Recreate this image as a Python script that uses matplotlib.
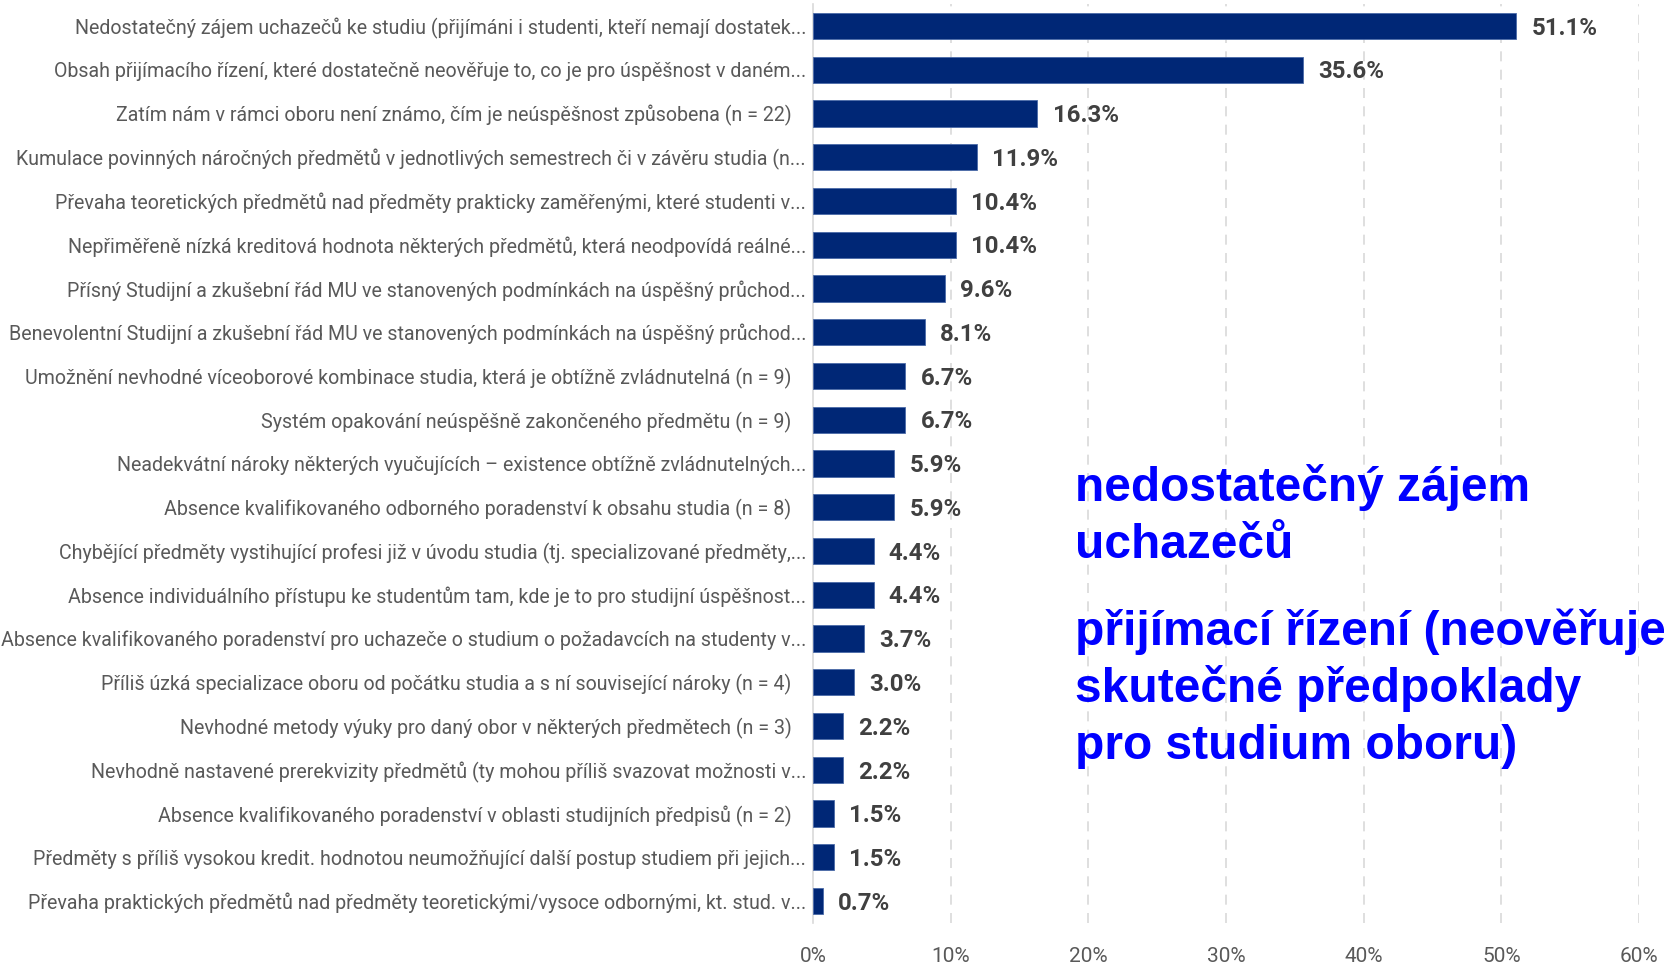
import matplotlib
matplotlib.use("Agg")
import matplotlib.pyplot as plt
from matplotlib import font_manager

labels = [
    "Nedostatečný zájem uchazečů ke studiu (přijímáni i studenti, kteří nemají dostatek...",
    "Obsah přijímacího řízení, které dostatečně neověřuje to, co je pro úspěšnost v daném...",
    "Zatím nám v rámci oboru není známo, čím je neúspěšnost způsobena (n = 22)   ",
    "Kumulace povinných náročných předmětů v jednotlivých semestrech či v závěru studia (n...",
    "Převaha teoretických předmětů nad předměty prakticky zaměřenými, které studenti v...",
    "Nepřiměřeně nízká kreditová hodnota některých předmětů, která neodpovídá reálné...",
    "Přísný Studijní a zkušební řád MU ve stanovených podmínkách na úspěšný průchod...",
    "Benevolentní Studijní a zkušební řád MU ve stanovených podmínkách na úspěšný průchod...",
    "Umožnění nevhodné víceoborové kombinace studia, která je obtížně zvládnutelná (n = 9)   ",
    "Systém opakování neúspěšně zakončeného předmětu (n = 9)   ",
    "Neadekvátní nároky některých vyučujících – existence obtížně zvládnutelných...",
    "Absence kvalifikovaného odborného poradenství k obsahu studia (n = 8)   ",
    "Chybějící předměty vystihující profesi již v úvodu studia (tj. specializované předměty,...",
    "Absence individuálního přístupu ke studentům tam, kde je to pro studijní úspěšnost...",
    "Absence kvalifikovaného poradenství pro uchazeče o studium o požadavcích na studenty v...",
    "Příliš úzká specializace oboru od počátku studia a s ní související nároky (n = 4)   ",
    "Nevhodné metody výuky pro daný obor v některých předmětech (n = 3)   ",
    "Nevhodně nastavené prerekvizity předmětů (ty mohou příliš svazovat možnosti v...",
    "Absence kvalifikovaného poradenství v oblasti studijních předpisů (n = 2)   ",
    "Předměty s příliš vysokou kredit. hodnotou neumožňující další postup studiem při jejich...",
    "Převaha praktických předmětů nad předměty teoretickými/vysoce odbornými, kt. stud. v...",
]
values = [51.1, 35.6, 16.3, 11.9, 10.4, 10.4, 9.6, 8.1, 6.7, 6.7, 5.9, 5.9,
          4.4, 4.4, 3.7, 3.0, 2.2, 2.2, 1.5, 1.5, 0.7]
xticks = [0, 10, 20, 30, 40, 50, 60]
annotation_lines = ["nedostatečný zájem", "uchazečů", "",
                    "přijímací řízení (neověřuje", "skutečné předpoklady", "pro studium oboru)"]

avail = {f.name for f in font_manager.fontManager.ttflist}
narrow = "Liberation Sans Narrow" if "Liberation Sans Narrow" in avail else "Roboto"

fig = plt.figure(figsize=(16.65, 9.63), dpi=100)
ax = fig.add_axes([813 / 1665, 1 - 923 / 963, (1639 - 813) / 1665, (923 - 4) / 963])

y = list(range(len(values)))
ax.barh(y, values, height=0.6, color="#002776", edgecolor="#4a6aa8", linewidth=0.6, zorder=3)
ax.set_ylim(len(values) - 0.5, -0.5)
ax.set_xlim(0, 60)
ax.set_yticks(y)
ax.set_yticklabels(labels, fontsize=14.1, color="#595959", family=[narrow, "DejaVu Sans"])
ax.set_xticks(xticks)
ax.set_xticklabels([f"{t}%" for t in xticks], fontsize=15, color="#595959",
                   family=[narrow, "DejaVu Sans"])
ax.tick_params(axis="y", length=0, pad=5)
ax.tick_params(axis="x", length=0, pad=17)
for s in ["top", "right", "bottom"]:
    ax.spines[s].set_visible(False)
ax.spines["left"].set_color("#d9d9d9")
ax.spines["left"].set_linewidth(1.2)
for t in xticks[1:]:
    ax.axvline(t, color="#d9d9d9", linestyle=(0, (6, 5)), linewidth=1.2, zorder=1)

for yi, v in zip(y, values):
    ax.text(v + 1.1, yi + 0.05, f"{v:.1f}%", va="center", ha="left", fontsize=17.3,
            fontweight="bold", color="#404040", family=[narrow, "DejaVu Sans"], zorder=4)

ys = [487, 545, 603, 632, 688, 746]
for line, yp in zip(annotation_lines, ys):
    if line:
        fig.text(1075 / 1665, 1 - yp / 963, line, ha="left", va="center", fontsize=34.5,
                 fontweight="bold", color="#0000ff", family=["Liberation Sans", "DejaVu Sans"])

fig.savefig("out.png", dpi=100)
